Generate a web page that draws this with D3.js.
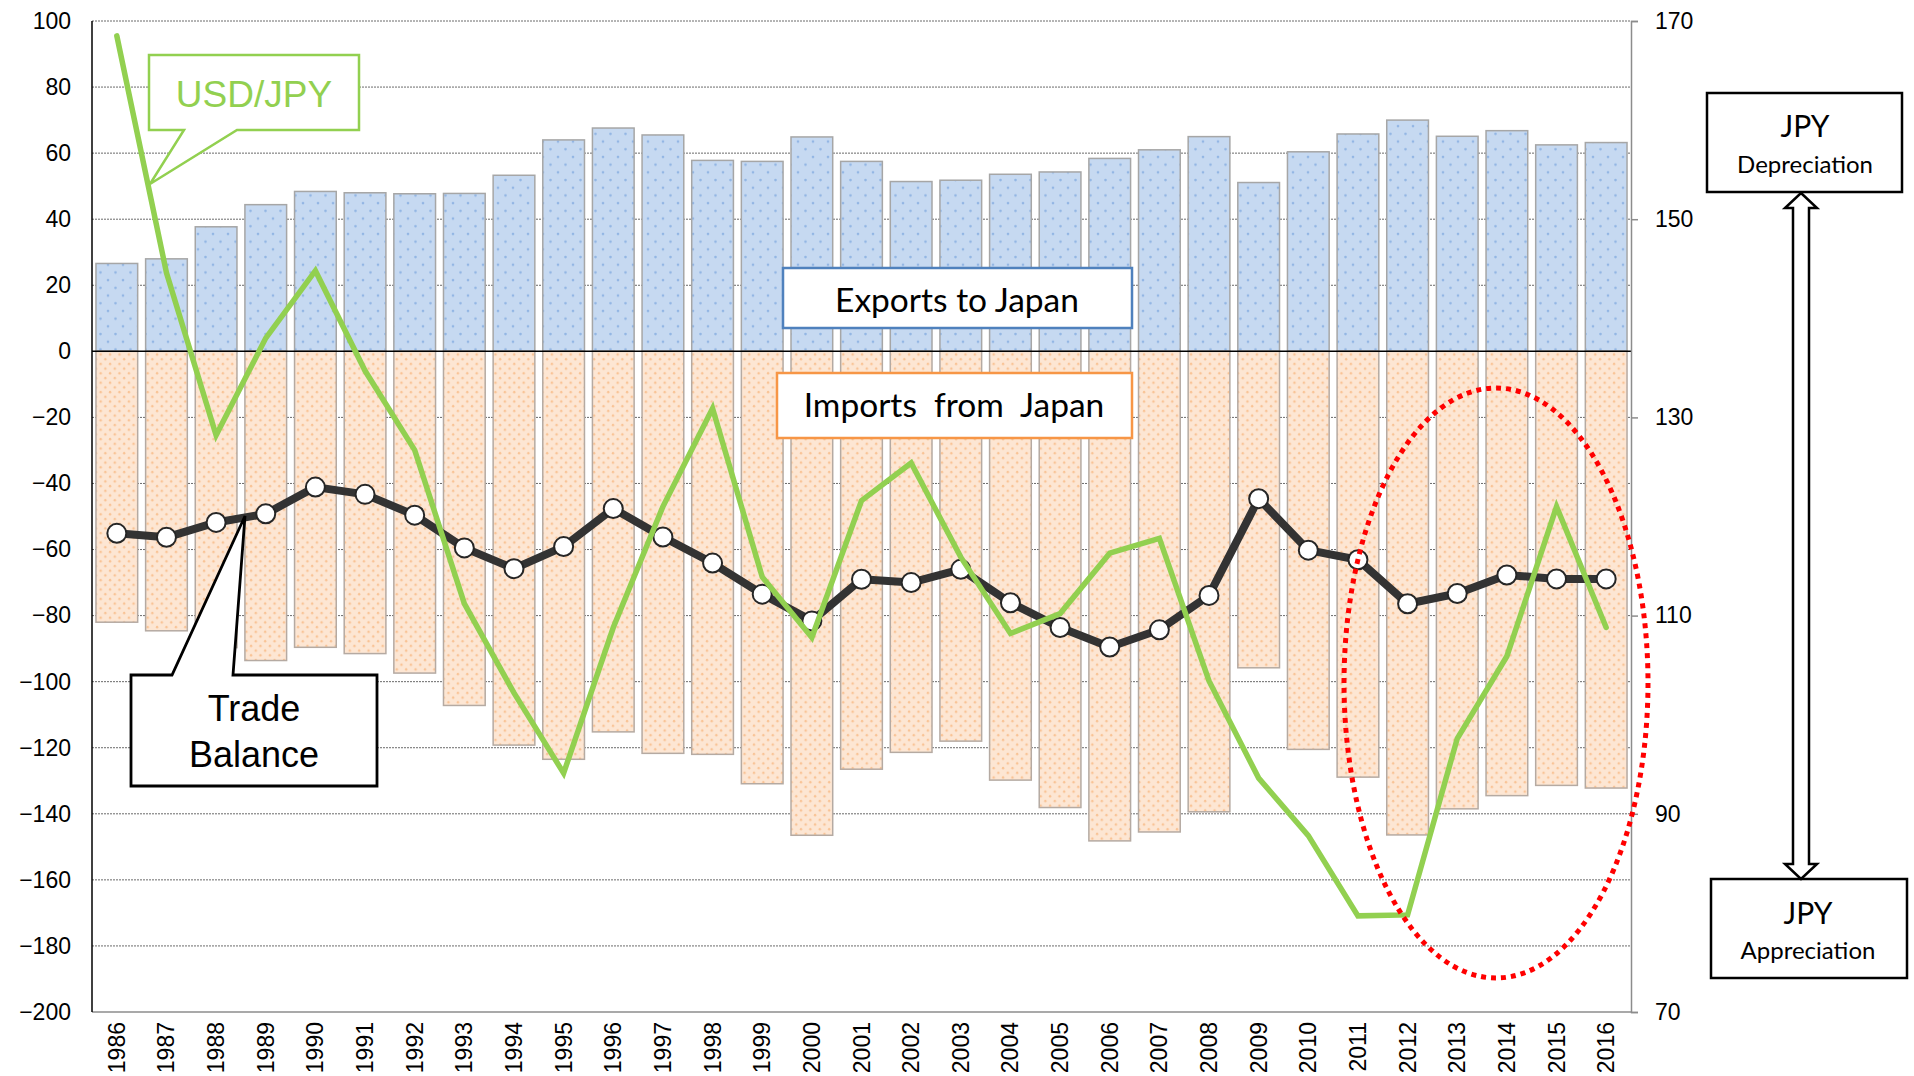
<!DOCTYPE html>
<html>
<head>
<meta charset="utf-8">
<script src="https://cdn.jsdelivr.net/npm/d3@7"></script>
<style>
  html, body { margin: 0; padding: 0; background: #fff; }
  svg { display: block; }
</style>
</head>
<body>
<div id="chart"></div>
<script>
/* US trade with Japan (bars + balance line) against USD/JPY on the right axis. */

var years = ["1986", "1987", "1988", "1989", "1990", "1991", "1992", "1993", "1994", "1995",
  "1996", "1997", "1998", "1999", "2000", "2001", "2002", "2003", "2004", "2005",
  "2006", "2007", "2008", "2009", "2010", "2011", "2012", "2013", "2014", "2015", "2016"];

var exportsToJapan = [26.6, 28, 37.7, 44.4, 48.4, 48, 47.7, 47.8, 53.3, 64, 67.6, 65.5, 57.8, 57.5, 64.9,
  57.5, 51.4, 51.8, 53.6, 54.3, 58.4, 61, 65, 51.1, 60.4, 65.8, 70, 65.1, 66.8, 62.5, 63.2];

var importsFromJapan = [-82, -84.6, -89.7, -93.6, -89.6, -91.5, -97.4, -107.2, -119.2, -123.5, -115.2, -121.7,
  -122, -130.9, -146.5, -126.5, -121.4, -118, -129.8, -138.1, -148.2, -145.5, -139.4, -95.8, -120.5, -128.9,
  -146.4, -138.5, -134.5, -131.4, -132.2];

var tradeBalance = [-55.1, -56.3, -51.8, -49.2, -41.1, -43.3, -49.6, -59.5, -65.8, -59.1, -47.6, -56.2,
  -64.1, -73.5, -81.6, -69, -70, -66, -76.1, -83.6, -89.5, -84.3, -73.9, -44.6, -60.2, -63.1, -76.4, -73.3,
  -67.7, -68.9, -68.9];

var usdJpy = [168.5, 144.6, 128.2, 138, 144.8, 134.7, 126.7, 111.2, 102.2, 94.1, 108.8, 121, 130.9, 113.9,
  107.8, 121.6, 125.4, 115.9, 108.2, 110.2, 116.3, 117.8, 103.4, 93.6, 87.8, 79.7, 79.8, 97.6, 105.9, 121, 108.8];

var leftTicks = [-200, -180, -160, -140, -120, -100, -80, -60, -40, -20, 0, 20, 40, 60, 80, 100];
var rightTicks = [70, 90, 110, 130, 150, 170];

var W = 1914, H = 1076;
var plot = { left: 92, right: 1631, top: 21, bottom: 1012 };

var svg = d3.select("#chart").append("svg")
  .attr("width", W).attr("height", H)
  .attr("viewBox", "0 0 " + W + " " + H);

var defs = svg.append("defs");

/* dotted fills of the bars */
var pb = defs.append("pattern").attr("id", "dotsBlue")
  .attr("patternUnits", "userSpaceOnUse").attr("width", 15).attr("height", 15.4);
pb.append("rect").attr("width", 15).attr("height", 15.4).attr("fill", "#c6d9f1");
pb.append("circle").attr("cx", 3).attr("cy", 3).attr("r", 1.3).attr("fill", "#93b6e4");
pb.append("circle").attr("cx", 10.5).attr("cy", 10.7).attr("r", 1.3).attr("fill", "#93b6e4");

var po = defs.append("pattern").attr("id", "dotsOrange")
  .attr("patternUnits", "userSpaceOnUse").attr("width", 9.4).attr("height", 9.4);
po.append("rect").attr("width", 9.4).attr("height", 9.4).attr("fill", "#fde6d3");
po.append("circle").attr("cx", 2).attr("cy", 2).attr("r", 1.2).attr("fill", "#f9c395");
po.append("circle").attr("cx", 6.7).attr("cy", 6.7).attr("r", 1.2).attr("fill", "#f9c395");

var x = d3.scaleBand().domain(years).range([plot.left, plot.right])
  .paddingInner(0.16).paddingOuter(0.08);
var y = d3.scaleLinear().domain([-200, 100]).range([plot.bottom, plot.top]);
var yR = d3.scaleLinear().domain([70, 170]).range([plot.bottom, plot.top]);
var cx = function (d, i) { return x(years[i]) + x.bandwidth() / 2; };

/* gridlines */
svg.append("g").selectAll("line").data(leftTicks.filter(function (v) { return v > -200 && v !== 0; }))
  .join("line")
  .attr("x1", plot.left).attr("x2", plot.right)
  .attr("y1", function (v) { return y(v); }).attr("y2", function (v) { return y(v); })
  .attr("stroke", "#6a6a6a").attr("stroke-width", 1).attr("stroke-dasharray", "2 1");

/* bars */
svg.append("g").selectAll("rect").data(exportsToJapan).join("rect")
  .attr("x", function (d, i) { return x(years[i]); })
  .attr("width", x.bandwidth())
  .attr("y", function (d) { return y(d); })
  .attr("height", function (d) { return y(0) - y(d); })
  .attr("fill", "url(#dotsBlue)").attr("stroke", "#a6a6a6").attr("stroke-width", 1.5);

svg.append("g").selectAll("rect").data(importsFromJapan).join("rect")
  .attr("x", function (d, i) { return x(years[i]); })
  .attr("width", x.bandwidth())
  .attr("y", y(0))
  .attr("height", function (d) { return y(d) - y(0); })
  .attr("fill", "url(#dotsOrange)").attr("stroke", "#b5aaa2").attr("stroke-width", 1.5);

/* axes */
var axisFont = "'Liberation Sans', Arial, sans-serif";

svg.append("line").attr("x1", plot.left).attr("x2", plot.right).attr("y1", y(0)).attr("y2", y(0))
  .attr("stroke", "#000").attr("stroke-width", 1.5);
svg.append("line").attr("x1", plot.left).attr("x2", plot.right).attr("y1", plot.bottom).attr("y2", plot.bottom)
  .attr("stroke", "#8c8c8c").attr("stroke-width", 1.5);
svg.append("line").attr("x1", plot.left).attr("x2", plot.left).attr("y1", plot.top).attr("y2", plot.bottom)
  .attr("stroke", "#000").attr("stroke-width", 1.5);

var gl = svg.append("g").attr("transform", "translate(" + plot.left + ",0)")
  .call(d3.axisLeft(y).tickValues(leftTicks).tickSize(0).tickPadding(21));
gl.select(".domain").remove();
gl.selectAll("text").attr("font-family", axisFont).attr("font-size", 23).attr("fill", "#000");

var gr = svg.append("g").attr("transform", "translate(" + plot.right + ",0)")
  .call(d3.axisRight(yR).tickValues(rightTicks).tickSize(7).tickPadding(17));
gr.select(".domain").attr("stroke", "#8c8c8c").attr("stroke-width", 1.5);
gr.selectAll(".tick line").attr("stroke", "#8c8c8c").attr("stroke-width", 1.5);
gr.selectAll("text").attr("font-family", axisFont).attr("font-size", 23).attr("fill", "#000");

svg.append("g").selectAll("text").data(years).join("text")
  .attr("transform", function (d) {
    return "translate(" + (x(d) + x.bandwidth() / 2 + 8) + "," + (plot.bottom + 10) + ") rotate(-90)";
  })
  .attr("text-anchor", "end")
  .attr("font-family", axisFont).attr("font-size", 23)
  .text(function (d) { return d; });

/* series boxes */
var boxFont = "Lato, 'Open Sans', sans-serif";
svg.append("rect").attr("x", 783).attr("y", 268).attr("width", 349).attr("height", 60)
  .attr("fill", "#fff").attr("stroke", "#4f81bd").attr("stroke-width", 2.5);
svg.append("text").attr("x", 957).attr("y", 312).attr("text-anchor", "middle")
  .attr("font-family", boxFont).attr("font-size", 33.5).text("Exports to Japan");

svg.append("rect").attr("x", 777).attr("y", 373).attr("width", 355).attr("height", 65)
  .attr("fill", "#fff").attr("stroke", "#f79646").attr("stroke-width", 2.5);
svg.append("text").attr("x", 954).attr("y", 417).attr("text-anchor", "middle")
  .attr("font-family", boxFont).attr("font-size", 33.5).style("white-space", "pre")
  .text("Imports  from  Japan");

/* trade balance line */
var line = d3.line().x(cx).y(function (d) { return y(d); });
svg.append("path").datum(tradeBalance)
  .attr("fill", "none").attr("stroke", "#333").attr("stroke-width", 8)
  .attr("stroke-linejoin", "round").attr("d", line);
svg.append("g").selectAll("circle").data(tradeBalance).join("circle")
  .attr("cx", cx).attr("cy", function (d) { return y(d); }).attr("r", 9.5)
  .attr("fill", "#fff").attr("stroke", "#262626").attr("stroke-width", 2);

/* USD/JPY line */
var fx = d3.line().x(cx).y(function (d) { return yR(d); });
svg.append("path").datum(usdJpy)
  .attr("fill", "none").attr("stroke", "#92d050").attr("stroke-width", 5.5)
  .attr("stroke-linejoin", "miter").attr("stroke-linecap", "round").attr("d", fx);

/* callouts */
svg.append("path").attr("d", "M149,55H359V130H237L150,184L184,130H149Z")
  .attr("fill", "#fff").attr("stroke", "#92d050").attr("stroke-width", 2.5);
svg.append("text").attr("x", 254).attr("y", 107).attr("text-anchor", "middle")
  .attr("font-family", axisFont).attr("font-size", 37).attr("fill", "#92d050").text("USD/JPY");

svg.append("path").attr("d", "M131,675H172L245,516L233,675H377V786H131Z")
  .attr("fill", "#fff").attr("stroke", "#000").attr("stroke-width", 2.8);
svg.append("text").attr("x", 254).attr("y", 721).attr("text-anchor", "middle")
  .attr("font-family", axisFont).attr("font-size", 36).text("Trade");
svg.append("text").attr("x", 254).attr("y", 767).attr("text-anchor", "middle")
  .attr("font-family", axisFont).attr("font-size", 36).text("Balance");

/* JPY direction boxes and double arrow */
svg.append("rect").attr("x", 1707).attr("y", 93).attr("width", 195).attr("height", 99)
  .attr("fill", "#fff").attr("stroke", "#000").attr("stroke-width", 2.5);
svg.append("text").attr("x", 1805).attr("y", 137).attr("text-anchor", "middle")
  .attr("font-family", boxFont).attr("font-size", 30).text("JPY");
svg.append("text").attr("x", 1805).attr("y", 173).attr("text-anchor", "middle")
  .attr("font-family", boxFont).attr("font-size", 24).text("Depreciation");

svg.append("rect").attr("x", 1711).attr("y", 879).attr("width", 196).attr("height", 99)
  .attr("fill", "#fff").attr("stroke", "#000").attr("stroke-width", 2.5);
svg.append("text").attr("x", 1808).attr("y", 924).attr("text-anchor", "middle")
  .attr("font-family", boxFont).attr("font-size", 30).text("JPY");
svg.append("text").attr("x", 1808).attr("y", 959).attr("text-anchor", "middle")
  .attr("font-family", boxFont).attr("font-size", 24).text("Appreciation");

var ax = 1801;
svg.append("path")
  .attr("d", "M" + ax + ",193L" + (ax + 16) + ",208H" + (ax + 8) + "V864H" + (ax + 16) +
    "L" + ax + ",879L" + (ax - 16) + ",864H" + (ax - 8) + "V208H" + (ax - 16) + "Z")
  .attr("fill", "#fff").attr("stroke", "#000").attr("stroke-width", 2.5);

/* highlight of recent years */
svg.append("ellipse").attr("cx", 1496).attr("cy", 683).attr("rx", 152).attr("ry", 295)
  .attr("fill", "none").attr("stroke", "#ff0000").attr("stroke-width", 5)
  .attr("stroke-dasharray", "5 5");
</script>
</body>
</html>
